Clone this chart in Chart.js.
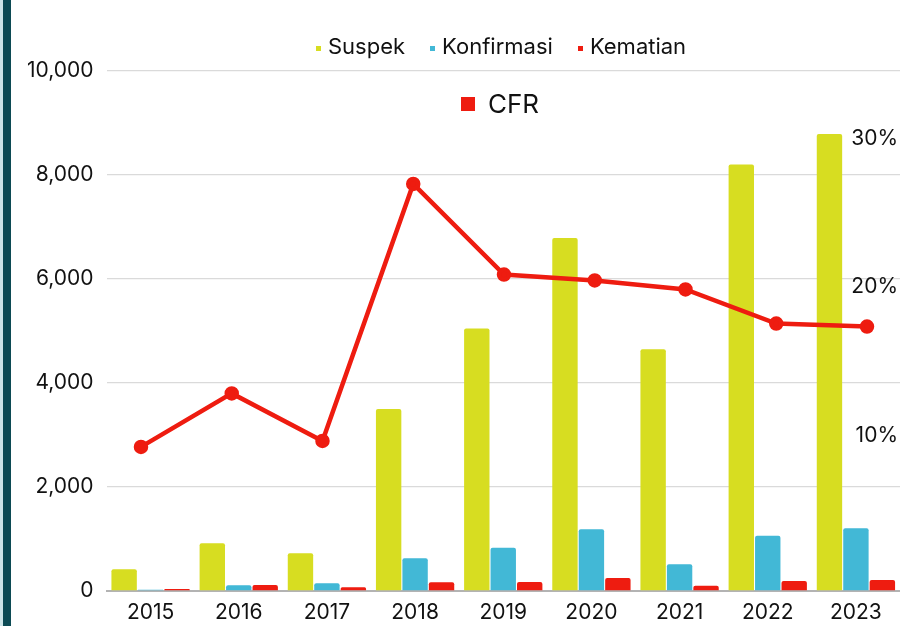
<!DOCTYPE html>
<html>
<head>
<meta charset="utf-8">
<script src="https://cdn.jsdelivr.net/npm/chart.js@4"></script>
<style>
  body { margin: 0; background: #fff; font-family: Inter, "Noto Sans", sans-serif; }
  #wrap { position: relative; width: 900px; height: 626px; overflow: hidden; }
  #wrap canvas { position: absolute; left: 0; top: 0; }
  #edge1 { position: absolute; left: 0; top: 0; width: 3px; height: 626px; background: #cde4e8; }
  #edge2 { position: absolute; left: 3px; top: 0; width: 8px; height: 626px; background: #0c4a54; }
  .legend { position: absolute; display: flex; align-items: center; color: #111; white-space: nowrap; }
  #legend1 { left: 316px; top: 33px; font-size: 22px; }
  #legend1 .item { display: flex; align-items: center; margin-right: 25px; }
  #legend1 .sw { width: 5px; height: 5px; margin-right: 7px; margin-top: 4px; }
  #legend2 { left: 461px; top: 88px; font-size: 26px; }
  #legend2 .sw { width: 14px; height: 14px; margin-right: 13px; }
</style>
</head>
<body>
<div id="wrap">
  <canvas id="bars" width="900" height="626"></canvas>
  <canvas id="line" width="900" height="626"></canvas>
  <div id="edge1"></div>
  <div id="edge2"></div>
  <div class="legend" id="legend1"></div>
  <div class="legend" id="legend2"><span class="sw" style="background:#ee1c10"></span><span>CFR</span></div>
</div>
<script>
let years = ["2015", "2016", "2017", "2018", "2019", "2020", "2021", "2022", "2023"];
let suspek = [420, 920, 725, 3500, 5050, 6790, 4650, 8200, 8790];
let konfirmasi = [25, 110, 148, 628, 833, 1186, 513, 1064, 1205];
let kematian = [40, 115, 71, 167, 173, 250, 102, 192, 211];
let cfr = [9.7, 13.3, 10.1, 27.4, 21.3, 20.9, 20.3, 18.0, 17.8];

let leftTicks = [0, 2000, 4000, 6000, 8000, 10000];
let rightTicks = [10, 20, 30];

let seriesNames = ["Suspek", "Konfirmasi", "Kematian"];
let seriesColors = ["#d7dd21", "#42b8d6", "#ee1c10"];

// html legend for the bars
let legend1 = document.getElementById("legend1");
seriesNames.forEach((name, i) => {
    legend1.innerHTML += `<span class="item"><span class="sw" style="background:${seriesColors[i]}"></span><span>${name}</span></span>`;
});

let font = { family: "Inter, 'Noto Sans', sans-serif", size: 21 };

let barSet = (label, data, color) => ({
    label: label,
    data: data,
    backgroundColor: color,
    borderRadius: 2,
    borderSkipped: "start",
    categoryPercentage: 0.9,
    barPercentage: 0.96
});

// bars + left axis
let barChart = new Chart(document.getElementById("bars"), {
    type: "bar",
    data: {
        labels: years,
        datasets: [
            barSet(seriesNames[0], suspek, seriesColors[0]),
            barSet(seriesNames[1], konfirmasi, seriesColors[1]),
            barSet(seriesNames[2], kematian, seriesColors[2])
        ]
    },
    options: {
        responsive: false,
        animation: false,
        devicePixelRatio: 1,
        layout: { padding: { top: 71, left: 0, right: 0, bottom: 0 } },
        plugins: { legend: { display: false }, tooltip: { enabled: false } },
        scales: {
            x: {
                grid: { display: false, drawTicks: false },
                border: { color: "#b3b3b3", width: 2 },
                ticks: { color: "#111", font: font, padding: 9, maxRotation: 0 },
                afterFit: s => { s.paddingLeft = 0; s.paddingRight = 0; s.height = 35; }
            },
            y: {
                min: 0,
                max: 10000,
                afterBuildTicks: s => { s.ticks = leftTicks.map(v => ({ value: v })); },
                afterFit: s => { s.width = 106.5; },
                grid: { color: "#dadada", lineWidth: 1.3, drawTicks: false },
                border: { display: false },
                ticks: {
                    color: "#111",
                    font: font,
                    padding: 13,
                    callback: v => v.toLocaleString("en-US")
                }
            }
        }
    }
});

// CFR line + right axis, drawn over the bars on its own canvas
// (its chart area ends at x=890.5, so the x range is set to put the points where the reference has them)
let lineChart = new Chart(document.getElementById("line"), {
    type: "line",
    data: {
        datasets: [{
            label: "CFR",
            data: cfr.map((v, i) => ({ x: i, y: v })),
            borderColor: "#ee1c10",
            backgroundColor: "#ee1c10",
            borderWidth: 4.5,
            pointRadius: 5,
            pointHoverRadius: 5,
            tension: 0
        }]
    },
    options: {
        responsive: false,
        animation: false,
        devicePixelRatio: 1,
        layout: { padding: { top: 71, left: 106.5, right: 0, bottom: 35 } },
        plugins: { legend: { display: false }, tooltip: { enabled: false } },
        scales: {
            x: {
                type: "linear",
                display: false,
                min: -0.38,
                max: 8.259
            },
            y: {
                position: "right",
                min: 0,
                max: 35,
                afterBuildTicks: s => { s.ticks = rightTicks.map(v => ({ value: v })); },
                afterFit: s => { s.width = 0; s.paddingTop = 0; s.paddingBottom = 0; },
                grid: { display: false, drawTicks: false },
                border: { display: false },
                ticks: {
                    mirror: true,
                    color: "#111",
                    font: font,
                    padding: 7.5,
                    labelOffset: -7,
                    callback: v => v + "%"
                }
            }
        }
    }
});
</script>
</body>
</html>
